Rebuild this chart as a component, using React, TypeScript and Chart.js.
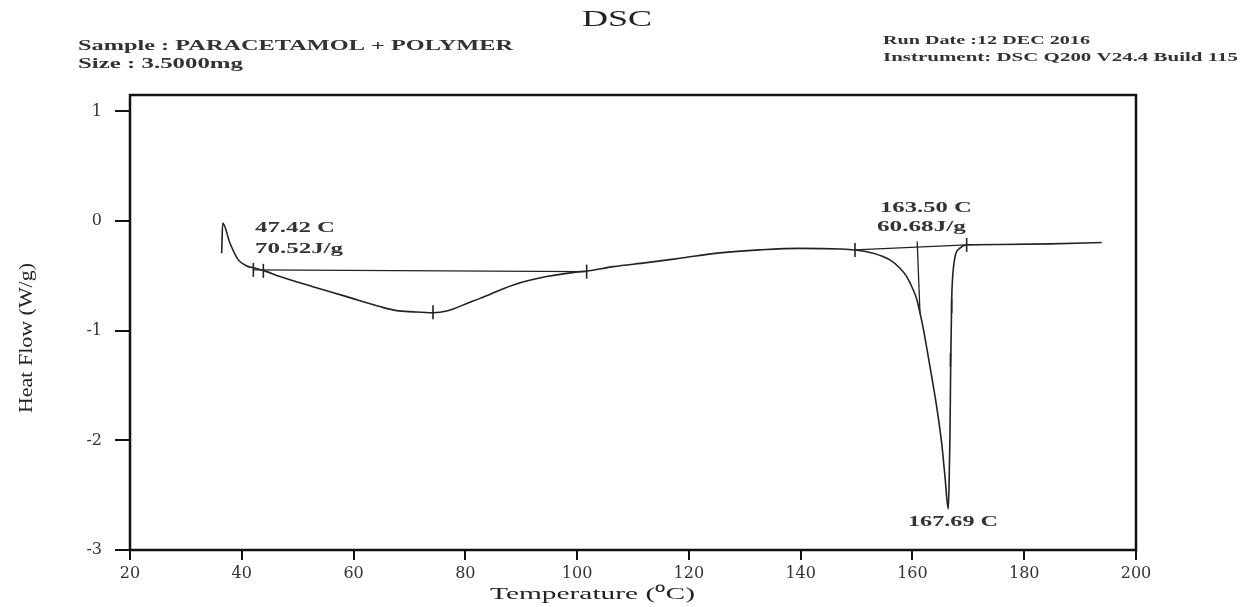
import React, { useEffect, useRef } from "react";
import { Chart, registerables } from "chart.js";

Chart.register(...registerables);

// ---- data ----
const tempC = [36.40, 36.59, 37.89, 39.38, 40.88, 42.37, 44.46, 46.84, 52.74, 58.77, 64.73, 67.72, 70.64, 74.21, 76.66, 80.83, 82.62, 88.58, 94.56, 100.52, 101.71, 106.48, 112.45, 118.41, 125.56, 132.72, 139.88, 147.04, 149.72, 153.0, 155.98, 157.77, 158.97, 160.15, 160.81, 161.35, 161.94, 163.14, 164.33, 165.23, 165.82, 166.41, 166.57, 166.72, 166.84, 167.02, 167.16, 167.61, 168.50, 169.70, 175.66, 184.61, 193.86];
const heatFlow = [-0.293, -0.019, -0.202, -0.354, -0.409, -0.430, -0.461, -0.506, -0.598, -0.689, -0.780, -0.817, -0.828, -0.836, -0.821, -0.740, -0.705, -0.582, -0.506, -0.461, -0.456, -0.415, -0.379, -0.339, -0.290, -0.263, -0.249, -0.254, -0.263, -0.293, -0.354, -0.430, -0.506, -0.628, -0.719, -0.838, -0.980, -1.328, -1.693, -2.026, -2.331, -2.626, -2.361, -1.932, -1.330, -0.719, -0.536, -0.327, -0.247, -0.217, -0.213, -0.208, -0.196];

const baseline1Temp = [42.07, 101.71];
const baseline1Flow = [-0.445, -0.461];
const baseline2Temp = [149.72, 169.70];
const baseline2Flow = [-0.263, -0.217];
const tangentTemp = [160.85, 161.35];
const tangentFlow = [-0.187, -0.838];

const markTemp = [42.07, 43.86, 74.21, 101.71, 149.72, 166.8, 167.02, 169.70];
const markFlow = [-0.445, -0.454, -0.831, -0.461, -0.263, -1.266, -0.774, -0.217];

const xTicks = [20, 40, 60, 80, 100, 120, 140, 160, 180, 200];
const yTicks = [-3, -2, -1, 0, 1];

// peak annotations: text, anchor temperature, anchor heat flow
const noteText = ["47.42 C", "70.52J/g", "163.50 C", "60.68J/g", "167.69 C"];
const noteTemp = [42.37, 42.37, 154.19, 153.65, 159.2];
const noteFlow = [-0.062, -0.254, 0.120, -0.053, -2.745];
const noteWidth = [80, 88, 92, 89, 90];

const titleText = "DSC";
const sampleText = "Sample : PARACETAMOL + POLYMER";
const sizeText = "Size : 3.5000mg";
const runDateText = "Run Date :12 DEC 2016";
const instrumentText = "Instrument: DSC Q200 V24.4 Build 115";
const xTitle = "Temperature (\u2070C)";
const yTitle = "Heat Flow (W/g)";

const pts = (xs: number[], ys: number[]) => xs.map((x, i) => ({ x, y: ys[i] }));

function fitText(ctx: CanvasRenderingContext2D, text: string, x: number, y: number, width: number, font: string, color: string) {
  ctx.save();
  ctx.font = font;
  ctx.fillStyle = color;
  ctx.textAlign = "left";
  ctx.textBaseline = "middle";
  const w = ctx.measureText(text).width;
  ctx.translate(x, y);
  ctx.scale(width / w, 1);
  ctx.fillText(text, 0, 0);
  ctx.restore();
}

const decorPlugin = {
  id: "decor",
  afterDraw(chart: any) {
    const { ctx, chartArea, scales } = chart;
    const serif = "'Liberation Serif', 'Times New Roman', serif";
    // frame
    ctx.save();
    ctx.strokeStyle = "#111";
    ctx.lineWidth = 2.5;
    ctx.strokeRect(chartArea.left, chartArea.top, chartArea.right - chartArea.left, chartArea.bottom - chartArea.top);
    ctx.restore();

    fitText(ctx, titleText, 582, 20, 70, `24px ${serif}`, "#222");
    fitText(ctx, sampleText, 78, 46, 435, `bold 15px ${serif}`, "#333");
    fitText(ctx, sizeText, 78, 64, 165, `bold 15px ${serif}`, "#333");
    fitText(ctx, runDateText, 883, 41, 207, `bold 13px ${serif}`, "#333");
    fitText(ctx, instrumentText, 883, 58, 355, `bold 13px ${serif}`, "#333");
    fitText(ctx, xTitle, 490, 595, 205, `17px ${serif}`, "#222");

    // y title rotated
    ctx.save();
    ctx.translate(27, 338);
    ctx.rotate(-Math.PI / 2);
    fitText(ctx, yTitle, -75, 0, 150, `18px ${serif}`, "#222");
    ctx.restore();

    const xs = scales.x, ys = scales.y;
    noteText.forEach((t, i) => {
      fitText(ctx, t, xs.getPixelForValue(noteTemp[i]), ys.getPixelForValue(noteFlow[i]), noteWidth[i], `bold 15px ${serif}`, "#333");
    });
  },
};

export default function App() {
  const ref = useRef<HTMLCanvasElement | null>(null);
  useEffect(() => {
    if (!ref.current) return;
    const lineStyle = { borderColor: "#222", borderWidth: 1.6, pointRadius: 0, showLine: true, fill: false };
    const chart = new Chart(ref.current, {
      type: "scatter",
      data: {
        datasets: [
          { label: "Heat Flow", data: pts(tempC, heatFlow), ...lineStyle, cubicInterpolationMode: "monotone" } as any,
          { label: "Baseline 1", data: pts(baseline1Temp, baseline1Flow), ...lineStyle, borderWidth: 1.4 } as any,
          { label: "Baseline 2", data: pts(baseline2Temp, baseline2Flow), ...lineStyle, borderWidth: 1.4 } as any,
          { label: "Onset tangent", data: pts(tangentTemp, tangentFlow), ...lineStyle, borderWidth: 1.3 } as any,
          {
            label: "Marks",
            data: pts(markTemp, markFlow),
            showLine: false,
            pointStyle: "line",
            pointRotation: 90,
            pointRadius: 7,
            borderColor: "#222",
            borderWidth: 1.6,
            backgroundColor: "#222",
          } as any,
        ],
      },
      options: {
        animation: false,
        responsive: false,
        devicePixelRatio: 1,
        layout: { padding: { left: 0, top: 95, right: 105, bottom: 0 } },
        plugins: { legend: { display: false }, tooltip: { enabled: false }, title: { display: false } },
        scales: {
          x: {
            type: "linear",
            min: 20,
            max: 200,
            afterFit: (s: any) => { s.height = 57; },
            afterBuildTicks: (s: any) => { s.ticks = xTicks.map((v) => ({ value: v })); },
            grid: { drawOnChartArea: false, drawTicks: true, tickLength: 10, color: "#111", lineWidth: 2 },
            border: { display: false },
            ticks: { autoSkip: false, maxRotation: 0, padding: 4, color: "#333", font: { family: "'DejaVu Serif', serif", size: 16 } },
          },
          y: {
            type: "linear",
            min: -3,
            max: 1.15,
            afterFit: (s: any) => { s.width = 130; },
            afterBuildTicks: (s: any) => { s.ticks = yTicks.map((v) => ({ value: v })); },
            grid: { drawOnChartArea: false, drawTicks: true, tickLength: 15, color: "#111", lineWidth: 2 },
            border: { display: false },
            ticks: { padding: 13, color: "#333", font: { family: "'DejaVu Serif', serif", size: 16 } },
          },
        },
      } as any,
      plugins: [decorPlugin],
    });
    return () => chart.destroy();
  }, []);
  return (
    <div style={{ position: "absolute", left: 0, top: 0, width: 1241, height: 607, background: "#fff" }}>
      <canvas ref={ref} width={1241} height={607} style={{ display: "block" }} />
    </div>
  );
}
